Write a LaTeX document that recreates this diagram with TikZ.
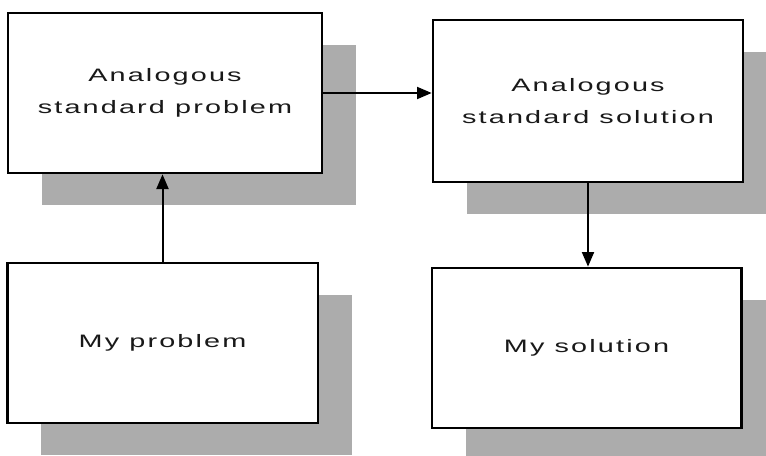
\documentclass[tikz,border=0pt]{standalone}
\usepackage{fontspec}
\newfontfamily\boxfont[FakeStretch=1.6,LetterSpace=12]{Liberation Sans}
\usetikzlibrary{shadows,arrows.meta}

\tikzset{
  stepbox/.style={draw, line width=2pt, fill=white, rectangle,
    minimum width=#1, minimum height=120pt, align=center,
    font=\boxfont\fontsize{13.5pt}{24pt}\selectfont, text=black!90,
    general shadow={shadow xshift=25.5pt, shadow yshift=-24pt, fill=gray!65}},
  link/.style={line width=1.5pt, -{Triangle[length=11pt,width=9pt]}}
}

\begin{document}
\begin{tikzpicture}[x=0.75pt,y=0.75pt,yscale=-1,xscale=1]
\useasboundingbox (0,0) rectangle (766,456);

% Shape: Rectangle
\node (stdprob) [stepbox=235.5pt] at (165,93) {Analogous\\standard problem};
% Shape: Rectangle
\node (stdsol) [stepbox=232.5pt, minimum height=121.5pt] at (588,101) {Analogous\\standard solution};
% Shape: Rectangle
\node (myprob) [stepbox=233pt] at (162.5,343) {My problem};
% Shape: Rectangle
\node (mysol) [stepbox=232pt] at (586.5,348) {My solution};

% Straight Lines
\draw [link] (myprob.north) -- (myprob.north |- stdprob.south);
% Straight Lines
\draw [link] (stdprob.east) -- (stdprob.east -| stdsol.west);
% Straight Lines
\draw [link] (stdsol.south) -- (stdsol.south |- mysol.north);

\end{tikzpicture}
\end{document}
